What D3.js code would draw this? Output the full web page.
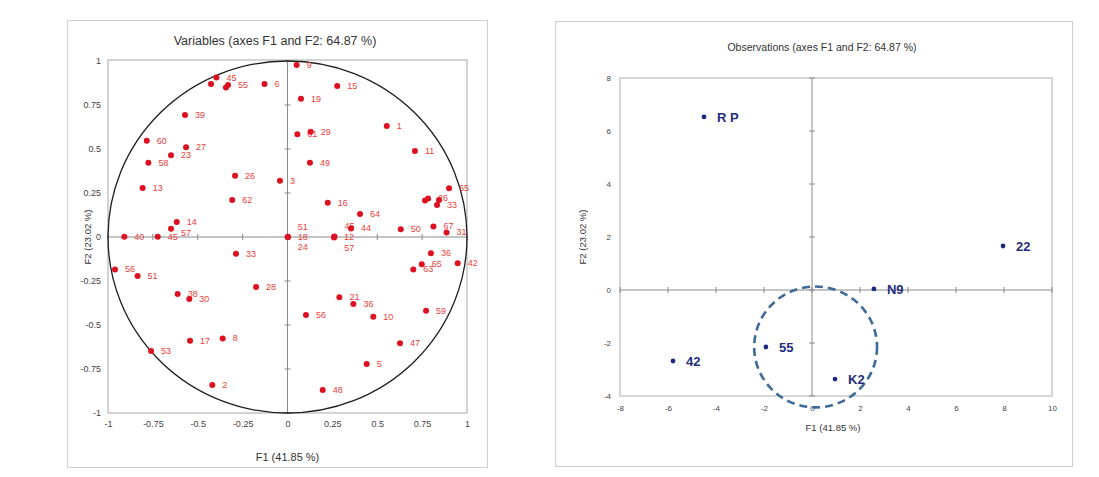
<!DOCTYPE html>
<html>
<head>
<meta charset="utf-8">
<script src="https://cdn.jsdelivr.net/npm/d3@7"></script>
<style>
  html, body { margin: 0; padding: 0; background: #fff; }
  svg { display: block; font-family: "Liberation Sans", Arial, sans-serif; }
</style>
</head>
<body>
<svg id="chart" width="1099" height="477"></svg>
<script>
// ---------------- DATA ----------------
// Left panel: correlation circle (variables)
const varLabels = ["", "45", "", "55", "6", "9", "15", "19", "1", "61", "29", "11", "49",
  "39", "60", "27", "23", "58", "26", "3", "13", "62", "14", "57", "40", "45",
  "18", "51", "24", "33", "56", "51", "28", "38", "30", "17", "8", "53", "2",
  "65", "16", "", "26", "", "33", "64", "12", "45", "57", "44", "50", "67", "31",
  "36", "42", "65", "63", "21", "36", "56", "10", "59", "47", "5", "48"];
const varF1 = [-0.426, -0.396, -0.343, -0.331, -0.128, 0.051, 0.277, 0.075, 0.553, 0.055, 0.129, 0.710, 0.125,
  -0.571, -0.784, -0.565, -0.649, -0.775, -0.292, -0.042, -0.807, -0.308, -0.617, -0.649, -0.909, -0.723,
  0.002, 0.002, 0.002, -0.287, -0.961, -0.835, -0.175, -0.612, -0.547, -0.543, -0.361, -0.760, -0.419,
  0.900, 0.224, 0.766, 0.783, 0.844, 0.833, 0.404, 0.259, 0.262, 0.260, 0.354, 0.631, 0.813, 0.886,
  0.799, 0.948, 0.748, 0.701, 0.289, 0.367, 0.103, 0.478, 0.772, 0.627, 0.441, 0.196];
const varF2 = [0.869, 0.906, 0.849, 0.864, 0.869, 0.977, 0.858, 0.786, 0.631, 0.584, 0.598, 0.489, 0.422,
  0.693, 0.547, 0.510, 0.464, 0.422, 0.348, 0.320, 0.278, 0.210, 0.085, 0.047, 0.002, 0.002,
  0.000, 0.002, -0.002, -0.095, -0.184, -0.222, -0.284, -0.324, -0.352, -0.589, -0.576, -0.648, -0.841,
  0.277, 0.195, 0.207, 0.219, 0.210, 0.182, 0.131, 0.000, 0.003, -0.003, 0.049, 0.044, 0.060, 0.026,
  -0.093, -0.149, -0.155, -0.184, -0.343, -0.381, -0.443, -0.453, -0.419, -0.604, -0.722, -0.869];
const varTicks = [-1, -0.75, -0.5, -0.25, 0, 0.25, 0.5, 0.75, 1];

// Right panel: observations
const obsLabels = ["R P", "22", "N9", "55", "K2", "42"];
const obsF1 = [-4.5, 7.96, 2.58, -1.92, 0.96, -5.79];
const obsF2 = [6.53, 1.66, 0.04, -2.15, -3.36, -2.68];
const obsXTicks = [-8, -6, -4, -2, 0, 2, 4, 6, 8, 10];
const obsYTicks = [-4, -2, 0, 2, 4, 6, 8];
const circleCenter = [0.15, -2.15];
const circleRadius = [2.56, 2.28];

const titleLeft = "Variables (axes F1 and F2: 64.87 %)";
const titleRight = "Observations (axes F1 and F2: 64.87 %)";
const xTitle = "F1 (41.85 %)";
const yTitle = "F2 (23.02 %)";

// ---------------- DRAW ----------------
const svg = d3.select("#chart");
svg.append("rect").attr("width", 1099).attr("height", 477).attr("fill", "#fff");

// ===== Left panel =====
const L = svg.append("g");
L.append("rect").attr("x", 67.5).attr("y", 20.5).attr("width", 420).attr("height", 447)
  .attr("fill", "none").attr("stroke", "#cfcfcf");

const xL = d3.scaleLinear().domain([-1, 1]).range([108, 467]);
const yL = d3.scaleLinear().domain([-1, 1]).range([413, 61]);

L.append("rect").attr("x", xL(-1)).attr("y", yL(1) - 1).attr("width", xL(1) - xL(-1))
  .attr("height", yL(-1) - yL(1) + 1).attr("fill", "none").attr("stroke", "#a8a8a8");

// axis lines through origin
L.append("line").attr("x1", xL(0)).attr("x2", xL(0)).attr("y1", yL(1) - 1).attr("y2", yL(-1))
  .attr("stroke", "#8a8a8a");
L.append("line").attr("x1", xL(-1)).attr("x2", xL(1)).attr("y1", yL(0)).attr("y2", yL(0))
  .attr("stroke", "#8a8a8a");
L.selectAll(".tx").data(varTicks).join("line")
  .attr("x1", d => xL(d)).attr("x2", d => xL(d)).attr("y1", yL(0) - 3).attr("y2", yL(0) + 3)
  .attr("stroke", "#8a8a8a");
L.selectAll(".ty").data(varTicks).join("line")
  .attr("x1", xL(0) - 3).attr("x2", xL(0) + 3).attr("y1", d => yL(d)).attr("y2", d => yL(d))
  .attr("stroke", "#8a8a8a");

// circle
L.append("ellipse").attr("cx", xL(0)).attr("cy", yL(0))
  .attr("rx", xL(1) - xL(0)).attr("ry", yL(-1) - yL(0))
  .attr("fill", "none").attr("stroke", "#1e1e1e").attr("stroke-width", 1.3);

// tick labels via axes
const fmt = d => String(d);
const axL_x = L.append("g").attr("transform", `translate(0,${yL(-1)})`)
  .call(d3.axisBottom(xL).tickValues(varTicks).tickFormat(fmt).tickSize(0).tickPadding(8));
const axL_y = L.append("g").attr("transform", `translate(${xL(-1)},0)`)
  .call(d3.axisLeft(yL).tickValues(varTicks).tickFormat(fmt).tickSize(0).tickPadding(7));
[axL_x, axL_y].forEach(a => {
  a.select(".domain").remove();
  a.selectAll("text").attr("font-size", 9).attr("fill", "#444")
    .attr("font-family", "Liberation Sans, Arial, sans-serif");
});

L.append("text").attr("x", 275).attr("y", 45).attr("text-anchor", "middle")
  .attr("font-size", 12.5).attr("fill", "#333").text(titleLeft);
L.append("text").attr("x", xL(0)).attr("y", 461).attr("text-anchor", "middle")
  .attr("font-size", 11).attr("fill", "#333").text(xTitle);
L.append("text").attr("transform", `translate(91,${yL(0)}) rotate(-90)`).attr("text-anchor", "middle")
  .attr("font-size", 9.5).attr("fill", "#333").text(yTitle);

// labels with simple overlap nudging
const placed = [];
const offsets = [0, -2, 2, -4, 4, -6, 6, -8, 8, -10, 10, -12, 12, -14, 14];
const varData = varLabels.map((lab, i) => ({ lab, x: xL(varF1[i]), y: yL(varF2[i]) }));
varData.forEach(d => {
  if (!d.lab) { d.ly = d.y; return; }
  const w = d.lab.length * 4.8;
  const x0 = d.x + 10, x1 = x0 + w;
  let chosen = 0;
  for (const off of offsets) {
    const yc = d.y + off;
    const hit = placed.some(p => Math.min(x1, p.x1) - Math.max(x0, p.x0) > 2 && Math.abs(yc - p.y) < 10);
    if (!hit) { chosen = off; break; }
  }
  d.ly = d.y + chosen;
  placed.push({ x0, x1, y: d.ly });
});

L.selectAll(".vl").data(varData.filter(d => d.lab)).join("text")
  .attr("x", d => d.x + 10).attr("y", d => d.ly + 3)
  .attr("font-size", 9).attr("fill", "#e8403a").text(d => d.lab);
L.selectAll(".vp").data(varData).join("circle")
  .attr("cx", d => d.x).attr("cy", d => d.y).attr("r", 3)
  .attr("fill", "#dc1020");

// ===== Right panel =====
const R = svg.append("g");
R.append("rect").attr("x", 555.5).attr("y", 21.5).attr("width", 517).attr("height", 445)
  .attr("fill", "none").attr("stroke", "#cfcfcf");

const xR = d3.scaleLinear().domain([-8, 10]).range([620, 1052]);
const yR = d3.scaleLinear().domain([-4, 8]).range([396, 78]);

R.append("rect").attr("x", xR(-8)).attr("y", yR(8)).attr("width", xR(10) - xR(-8))
  .attr("height", yR(-4) - yR(8)).attr("fill", "none").attr("stroke", "#b0b0b0");
R.append("line").attr("x1", xR(0)).attr("x2", xR(0)).attr("y1", yR(8)).attr("y2", yR(-4))
  .attr("stroke", "#8a8a8a");
R.append("line").attr("x1", xR(-8)).attr("x2", xR(10)).attr("y1", yR(0)).attr("y2", yR(0))
  .attr("stroke", "#8a8a8a");
R.selectAll(".rtx").data(obsXTicks).join("line")
  .attr("x1", d => xR(d)).attr("x2", d => xR(d)).attr("y1", yR(0) - 3).attr("y2", yR(0) + 3)
  .attr("stroke", "#8a8a8a");
R.selectAll(".rty").data(obsYTicks).join("line")
  .attr("x1", xR(0) - 3).attr("x2", xR(0) + 3).attr("y1", d => yR(d)).attr("y2", d => yR(d))
  .attr("stroke", "#8a8a8a");

const axR_x = R.append("g").attr("transform", `translate(0,${yR(-4)})`)
  .call(d3.axisBottom(xR).tickValues(obsXTicks).tickFormat(fmt).tickSize(0).tickPadding(9));
const axR_y = R.append("g").attr("transform", `translate(${xR(-8)},0)`)
  .call(d3.axisLeft(yR).tickValues(obsYTicks).tickFormat(fmt).tickSize(0).tickPadding(9));
[axR_x, axR_y].forEach(a => {
  a.select(".domain").remove();
  a.selectAll("text").attr("font-size", 8).attr("fill", "#444")
    .attr("font-family", "Liberation Sans, Arial, sans-serif");
});

R.append("text").attr("x", 822).attr("y", 51).attr("text-anchor", "middle")
  .attr("font-size", 10.5).attr("fill", "#333").text(titleRight);
R.append("text").attr("x", 833).attr("y", 431).attr("text-anchor", "middle")
  .attr("font-size", 9.5).attr("fill", "#333").text(xTitle);
R.append("text").attr("transform", `translate(586,${yR(2)}) rotate(-90)`).attr("text-anchor", "middle")
  .attr("font-size", 9.5).attr("fill", "#333").text(yTitle);

// dashed highlight circle
R.append("ellipse").attr("cx", xR(circleCenter[0])).attr("cy", yR(circleCenter[1]))
  .attr("rx", xR(circleRadius[0]) - xR(0)).attr("ry", yR(0) - yR(circleRadius[1]))
  .attr("fill", "none").attr("stroke", "#3f6a98").attr("stroke-width", 2.6)
  .attr("stroke-dasharray", "8,5");

const obsData = obsLabels.map((lab, i) => ({ lab, x: xR(obsF1[i]), y: yR(obsF2[i]) }));
R.selectAll(".op").data(obsData).join("circle")
  .attr("cx", d => d.x).attr("cy", d => d.y).attr("r", 2.4).attr("fill", "#1c2a7e");
R.selectAll(".ol").data(obsData).join("text")
  .attr("x", d => d.x + 13).attr("y", d => d.y + 5)
  .attr("font-size", 13).attr("font-weight", "bold").attr("fill", "#232e7c").text(d => d.lab);
</script>
</body>
</html>
